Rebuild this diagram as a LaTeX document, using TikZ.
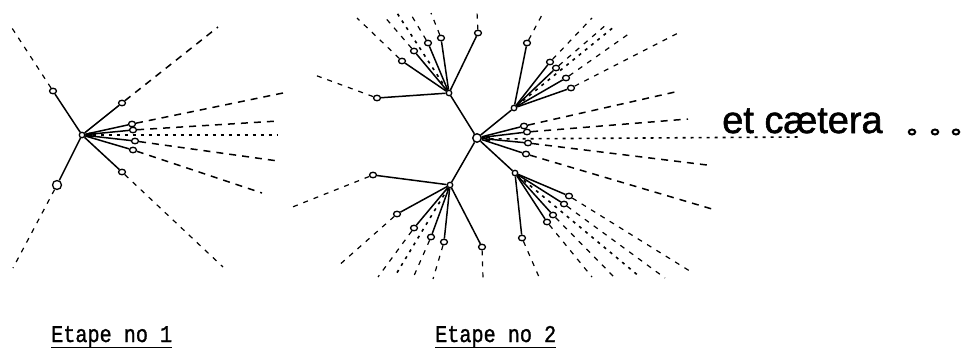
\documentclass[tikz,border=0pt]{standalone}
\usepackage{fontspec}
\setsansfont{Liberation Sans}[FakeBold=1.5]
\setmonofont{Liberation Mono}[FakeBold=1.4]
\usetikzlibrary{shapes.geometric}
\tikzset{
  leaf/.style={draw, ellipse, fill=white, inner sep=0pt, minimum width=7pt, minimum height=5.5pt, line width=1.3pt},
  bigleaf/.style={leaf, minimum width=9pt, minimum height=9pt},
  hubdot/.style={draw, circle, fill=white, inner sep=0pt, minimum size=5.5pt, line width=1.3pt},
  centre/.style={draw, circle, fill=white, inner sep=0pt, minimum size=8.5pt, line width=1.4pt},
  stem/.style={line width=1.5pt},
  ext/.style={line width=1.5pt, dash pattern=on 7pt off 6pt},
  thinext/.style={line width=1.2pt, dash pattern=on 5pt off 6pt},
  axis/.style={line width=1.6pt, dash pattern=on 3pt off 5pt},
  label/.style={font=\ttfamily\fontsize{24}{24}\selectfont, inner sep=0pt, anchor=base west},
}
\begin{document}
\begin{tikzpicture}[x=1pt, y=-1pt]
\useasboundingbox (0,0) rectangle (963,349);

% ---------- step 1 : a single tree ----------
\node[hubdot] (s1) at (82,135) {};
\node[leaf, minimum width=4pt, minimum height=4pt] (s1o) at (90,135) {};
\coordinate (s1oe) at (278,135);
\draw[axis] (s1o) -- (s1oe);
\foreach \n/\x/\y/\ex/\ey/\st in {
    a/53/91/10/25/thinext,
    c/122/103/218/27/ext,
    d/122/172/223/267/thinext,
    f1/132/124/283/93/ext,
    f2/133/130/278/121/ext,
    f3/135/141/278/161/ext,
    f4/133/150/262/193/ext}{
  \node[leaf] (s1\n) at (\x,\y) {};
  \coordinate (s1\n e) at (\ex,\ey);
  \draw[stem] (s1) -- (s1\n);
  \draw[\st] (s1\n) -- (s1\n e);
}
\node[bigleaf] (s1b) at (57,185) {};
\coordinate (s1be) at (13,268);
\draw[stem] (s1) -- (s1b);
\draw[thinext] (s1b) -- (s1be);

% ---------- step 2 : every branch grows its own tree ----------
\node[centre] (s2) at (477,138) {};
\node[hubdot] (hA) at (449,93) {};
\node[hubdot] (hB) at (514,108) {};
\node[hubdot] (hC) at (450,185) {};
\node[hubdot] (hD) at (515,173) {};
\foreach \h in {hA,hB,hC,hD}{ \draw[stem] (s2) -- (\h); }

% fan on the right of the centre
\node[leaf, minimum width=4pt, minimum height=4pt] (s2o) at (488,139) {};
\coordinate (s2oe) at (800,137);
\draw[axis] (s2o) -- (s2oe);
\foreach \n/\x/\y/\ex/\ey in {
    g1/524/126/675/92,
    g2/527/132/688/119,
    g3/528/143/707/165,
    g4/526/154/712/209}{
  \node[leaf] (\n) at (\x,\y) {};
  \coordinate (\n e) at (\ex,\ey);
  \draw[stem] (s2) -- (\n);
  \draw[ext] (\n) -- (\n e);
}

% upper left tree
\coordinate (hAe) at (397,13);
\draw[axis] (hA) -- (hAe);
\foreach \n/\x/\y/\ex/\ey in {
    A1/377/98/312/74,
    A2/402/61/357/18,
    A3/414/51/383/15,
    A4/428/43/410/13,
    A5/441/38/431/13,
    A6/478/33/477/12}{
  \node[leaf] (\n) at (\x,\y) {};
  \coordinate (\n e) at (\ex,\ey);
  \draw[stem] (hA) -- (\n);
  \draw[thinext] (\n) -- (\n e);
}

% upper right tree
\coordinate (hBe) at (615,26);
\draw[axis] (hB) -- (hBe);
\foreach \n/\x/\y/\ex/\ey in {
    B1/527/43/543/13,
    B2/550/62/592/18,
    B3/556/68/607/24,
    B4/566/78/630/33,
    B5/571/88/682/31}{
  \node[leaf] (\n) at (\x,\y) {};
  \coordinate (\n e) at (\ex,\ey);
  \draw[stem] (hB) -- (\n);
  \draw[thinext] (\n) -- (\n e);
}

% lower left tree
\coordinate (hCe) at (395,276);
\draw[axis] (hC) -- (hCe);
\foreach \n/\x/\y/\ex/\ey in {
    C1/373/175/290/208,
    C2/397/214/337/267,
    C3/414/228/378/277,
    C4/431/237/413/278,
    C5/444/242/433/279,
    C6/482/247/483/278}{
  \node[leaf] (\n) at (\x,\y) {};
  \coordinate (\n e) at (\ex,\ey);
  \draw[stem] (hC) -- (\n);
  \draw[thinext] (\n) -- (\n e);
}

% lower right tree
\coordinate (hDe) at (640,277);
\draw[axis] (hD) -- (hDe);
\foreach \n/\x/\y/\ex/\ey in {
    D1/522/238/539/277,
    D2/547/222/592/277,
    D3/553/215/615/278,
    D4/564/204/665/278,
    D5/569/196/693/273}{
  \node[leaf] (\n) at (\x,\y) {};
  \coordinate (\n e) at (\ex,\ey);
  \draw[stem] (hD) -- (\n);
  \draw[thinext] (\n) -- (\n e);
}

% ---------- and so on ----------
\node[font=\sffamily\fontsize{38}{38}\selectfont, inner sep=0pt, anchor=base west] (etc) at (722,133) {et cætera};
\foreach \i/\x in {1/912,2/935,3/956}{
  \node[draw, ellipse, inner sep=0pt, minimum width=6.5pt, minimum height=5pt, line width=2pt] (dot\i) at (\x,132) {};
}

% ---------- captions (narrow typewriter lettering) ----------
\node[label] (lab1) at (51,342) {\scalebox{0.84}[1]{Etape no 1}};
\node[label] (lab2) at (435,342) {\scalebox{0.84}[1]{Etape no 2}};
\draw[line width=1.2pt] ([yshift=-5.5pt]lab1.base west) -- ([yshift=-5.5pt]lab1.base east);
\draw[line width=1.2pt] ([yshift=-5.5pt]lab2.base west) -- ([yshift=-5.5pt]lab2.base east);
\end{tikzpicture}
\end{document}
